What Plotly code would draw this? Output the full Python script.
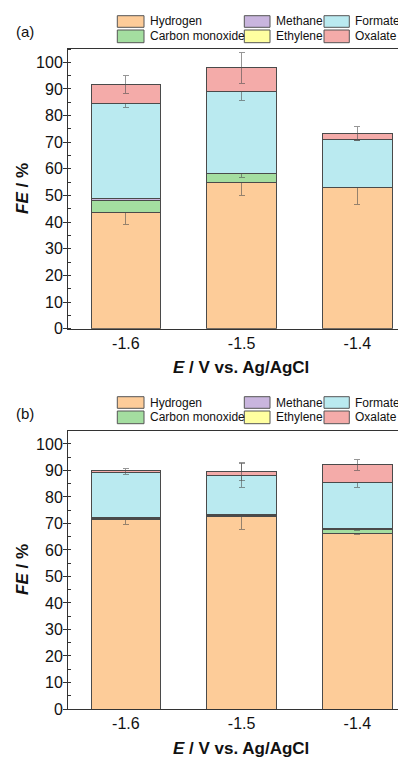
import plotly.graph_objects as go

# ---------------- data ----------------
potentials = ["-1.6", "-1.5", "-1.4"]
products = ["Hydrogen", "Carbon monoxide", "Methane", "Ethylene", "Formate", "Oxalate"]
colors = ["#FDCC99", "#A4DEA0", "#C9B5DE", "#FFFFA0", "#BAEAF0", "#F4ABA9"]

# panel (a)
a_hydrogen = [43.8, 54.8, 53.0]
a_co = [4.5, 3.4, 0.0]
a_methane = [0.5, 0.0, 0.0]
a_ethylene = [0.1, 0.0, 0.0]
a_formate = [35.5, 31.0, 17.9]
a_oxalate = [7.3, 8.8, 2.3]
a_hydrogen_err = [4.8, 4.8, 6.5]
a_co_err = [0.3, 1.5, 0.0]
a_methane_err = [0.0, 0.0, 0.0]
a_ethylene_err = [0.0, 0.0, 0.0]
a_formate_err = [1.4, 3.7, 0.3]
a_oxalate_err = [3.3, 5.8, 2.6]

# panel (b)
b_hydrogen = [71.4, 72.5, 66.3]
b_co = [0.6, 0.5, 1.4]
b_methane = [0.3, 0.3, 0.3]
b_ethylene = [0.1, 0.1, 0.1]
b_formate = [16.8, 14.6, 17.2]
b_oxalate = [0.9, 1.7, 6.9]
b_hydrogen_err = [1.9, 4.7, 0.5]
b_co_err = [0.3, 0.3, 0.3]
b_methane_err = [0.0, 0.0, 0.0]
b_ethylene_err = [0.0, 0.0, 0.0]
b_formate_err = [0.8, 4.6, 1.6]
b_oxalate_err = [0.8, 3.4, 2.1]

y_ticks = [0, 10, 20, 30, 40, 50, 60, 70, 80, 90, 100]

panel_a = [a_hydrogen, a_co, a_methane, a_ethylene, a_formate, a_oxalate]
panel_a_err = [a_hydrogen_err, a_co_err, a_methane_err, a_ethylene_err, a_formate_err, a_oxalate_err]
panel_b = [b_hydrogen, b_co, b_methane, b_ethylene, b_formate, b_oxalate]
panel_b_err = [b_hydrogen_err, b_co_err, b_methane_err, b_ethylene_err, b_formate_err, b_oxalate_err]

# ---------------- layout helpers ----------------
# the page body has an 8px margin; work in window pixels and convert
OFF = 8
W, H = 406 - OFF, 760 - OFF
ML, MR, MT, MB = 68 - OFF, 0, 49 - OFF, 51
PW, PH = W - ML - MR, H - MT - MB


def px_x(px):
    return (px - OFF - ML) / PW


def px_y(py):
    return (H - MB - (py - OFF)) / PH


FONT = "Liberation Sans, Arial, sans-serif"
fig = go.Figure()

for values, errs, xa, ya in [(panel_a, panel_a_err, "x", "y"), (panel_b, panel_b_err, "x2", "y2")]:
    for name, col, v, e in zip(products, colors, values, errs):
        fig.add_trace(go.Bar(
            x=potentials, y=v, name=name, xaxis=xa, yaxis=ya,
            marker=dict(color=col, line=dict(color="#4a4a4a", width=1)),
            width=0.6, showlegend=False,
            error_y=dict(type="data", array=e, visible=True,
                         color="rgba(80,80,80,0.6)", thickness=1, width=3),
        ))

axis_common_x = dict(
    type="category", range=[-0.5, -0.5 + PW / 115.75], showline=True, linecolor="#333",
    linewidth=1, mirror=True, ticks="", showgrid=False, zeroline=False,
    tickfont=dict(family=FONT, size=16, color="#111"),
)
axis_common_y = dict(
    range=[0, 105], tickvals=y_ticks, showline=True, linecolor="#333", linewidth=1,
    ticks="outside", ticklen=4, tickcolor="#333", showgrid=False, zeroline=False,
    minor=dict(dtick=5, tick0=0, ticks="inside", ticklen=3, tickcolor="#333"),
    tickfont=dict(family=FONT, size=16, color="#111"), ticklabelstandoff=-3,
)

top_dom = [px_y(328.7), 1.0]
bot_dom = [0.0, px_y(430.7)]

fig.update_layout(
    width=W, height=H, barmode="stack",
    margin=dict(l=ML, r=MR, t=MT, b=MB, autoexpand=False),
    paper_bgcolor="white", plot_bgcolor="white",
    xaxis=dict(axis_common_x, domain=[0, 1], anchor="y"),
    yaxis=dict(axis_common_y, domain=top_dom, anchor="x"),
    xaxis2=dict(axis_common_x, domain=[0, 1], anchor="y2"),
    yaxis2=dict(axis_common_y, domain=bot_dom, anchor="x2"),
    showlegend=False,
)

# ---------------- legends, labels, titles ----------------
shapes = []
annotations = []
legend_cols = [(117.3, 144.0, 147.7), (244.3, 270.0, 274.0), (324.0, 349.3, 353.3)]
legend_rows = [(15.7, 27.3, 21.5), (30.0, 42.7, 36.3)]
# column-major: col1 = Hydrogen, CO ; col2 = Methane, Ethylene ; col3 = Formate, Oxalate
for dy in (0, 381):
    for ci, (bx0, bx1, tx) in enumerate(legend_cols):
        for ri, (by0, by1, ty) in enumerate(legend_rows):
            k = ci * 2 + ri
            shapes.append(dict(type="rect", xref="paper", yref="paper",
                               x0=px_x(bx0), x1=px_x(bx1), y0=px_y(by1 + dy), y1=px_y(by0 + dy),
                               fillcolor=colors[k], line=dict(color="#555", width=1)))
            annotations.append(dict(xref="paper", yref="paper", x=px_x(tx), y=px_y(ty + dy),
                                    xanchor="left", yanchor="middle", showarrow=False,
                                    text=products[k], font=dict(family=FONT, size=12, color="#111")))

for lab, cy in (("(a)", 31.7), ("(b)", 413.0)):
    annotations.append(dict(xref="paper", yref="paper", x=px_x(25), y=px_y(cy),
                            xanchor="center", yanchor="middle", showarrow=False,
                            text=lab, font=dict(family=FONT, size=15, color="#111")))

for cy in (368.0, 748.0):
    annotations.append(dict(xref="paper", yref="paper", x=px_x(241), y=px_y(cy),
                            xanchor="center", yanchor="middle", showarrow=False,
                            text="<b><i>E</i> / V vs. Ag/AgCl</b>",
                            font=dict(family=FONT, size=17, color="#111")))

for cy in (189.0, 570.0):
    annotations.append(dict(xref="paper", yref="paper", x=px_x(22), y=px_y(cy),
                            xanchor="center", yanchor="middle", showarrow=False, textangle=-90,
                            text="<b><i>FE</i> / %</b>",
                            font=dict(family=FONT, size=17, color="#111")))

fig.update_layout(shapes=shapes, annotations=annotations)
fig.write_html("out.html")
